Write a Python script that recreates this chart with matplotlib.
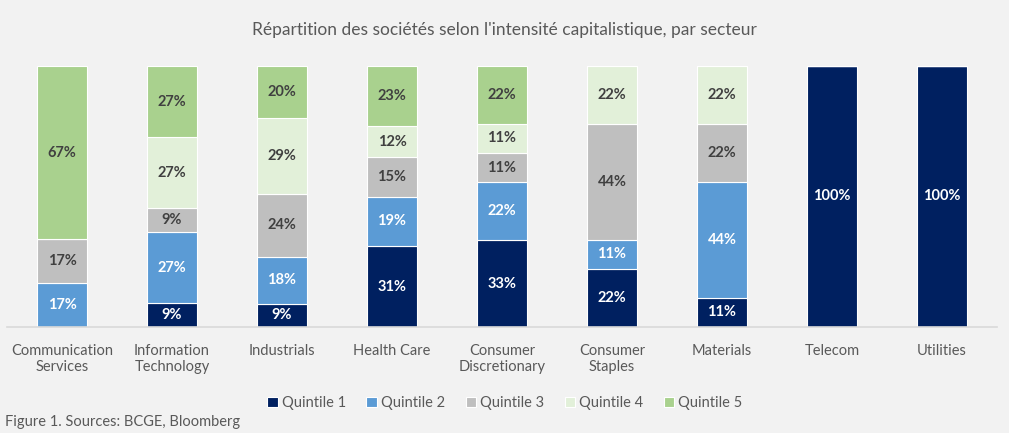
import numpy as np
import matplotlib.pyplot as plt

plt.rcParams['font.family'] = ['Lato', 'DejaVu Sans']

secteurs = ["Communication\nServices", "Information\nTechnology", "Industrials", "Health Care",
            "Consumer\nDiscretionary", "Consumer\nStaples", "Materials", "Telecom", "Utilities"]
quintile_1 = [0, 9, 9, 31, 33, 22, 11, 100, 100]
quintile_2 = [17, 27, 18, 19, 22, 11, 44, 0, 0]
quintile_3 = [17, 9, 24, 15, 11, 44, 22, 0, 0]
quintile_4 = [0, 27, 29, 12, 11, 22, 22, 0, 0]
quintile_5 = [67, 27, 20, 23, 22, 0, 0, 0, 0]
noms = ["Quintile 1", "Quintile 2", "Quintile 3", "Quintile 4", "Quintile 5"]

couleurs = ["#002060", "#5B9BD5", "#BFBFBF", "#E2F0D9", "#A9D18E"]
couleurs_txt = ["white", "white", "#404040", "#404040", "#404040"]

data = np.array([quintile_1, quintile_2, quintile_3, quintile_4, quintile_5], dtype=float)
parts = data / data.sum(axis=0)  # 100% empile

fig = plt.figure(figsize=(10.09, 4.33), dpi=100, facecolor="#F2F2F2")
ax = fig.add_axes([7 / 1009, 1 - 327 / 433, 990 / 1009, 261 / 433])
ax.set_facecolor("#F2F2F2")

x = np.arange(len(secteurs))
bas = np.zeros(len(secteurs))
for i in range(5):
    ax.bar(x, parts[i], 0.455, bottom=bas, color=couleurs[i], edgecolor="white",
           linewidth=0.8, label=noms[i])
    for j in range(len(secteurs)):
        if data[i, j] > 0:
            ax.text(x[j], bas[j] + parts[i, j] / 2, "%d%%" % data[i, j], ha="center", va="center",
                    fontsize=10.5, fontweight="bold", color=couleurs_txt[i])
    bas += parts[i]

ax.set_xlim(-0.5, len(secteurs) - 0.5)
ax.set_ylim(0, 1)
ax.set_yticks([])
ax.set_xticks(x)
ax.set_xticklabels(secteurs, fontsize=10.5, color="#595959", va="top")
ax.tick_params(axis="x", length=0, pad=12)
for s in ["top", "left", "right"]:
    ax.spines[s].set_visible(False)
ax.spines["bottom"].set_color("#D9D9D9")
ax.spines["bottom"].set_linewidth(1.2)

fig.text(0.5, 1 - 30 / 433, "Répartition des sociétés selon l'intensité capitalistique, par secteur",
         ha="center", va="center", fontsize=12.5, color="#595959")

leg = fig.legend(loc="center", bbox_to_anchor=(505 / 1009, 1 - 403 / 433), ncol=5, frameon=False,
                 fontsize=10.5, handlelength=0.7, handleheight=0.7, handletextpad=0.3, columnspacing=1.4)
for t in leg.get_texts():
    t.set_color("#595959")

fig.text(5 / 1009, 1 - 422 / 433, "Figure 1. Sources: BCGE, Bloomberg", ha="left", va="center",
         fontsize=10.5, color="#595959")

plt.savefig("out.png", dpi=100, facecolor=fig.get_facecolor())
